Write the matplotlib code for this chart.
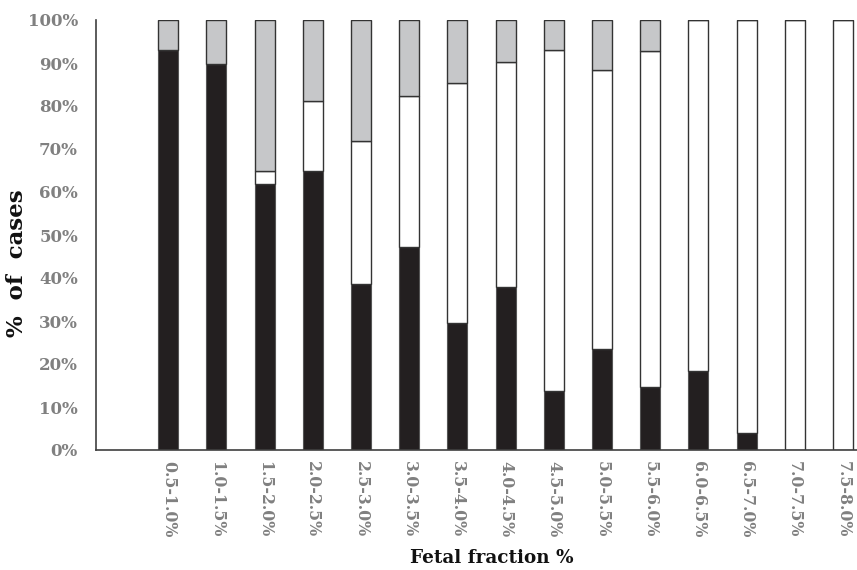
import matplotlib
matplotlib.use("Agg")
import matplotlib.pyplot as plt
import numpy as np

# fetal fraction bins (first slot of the axis is left empty)
bins = ["0.5-1.0%", "1.0-1.5%", "1.5-2.0%", "2.0-2.5%", "2.5-3.0%",
        "3.0-3.5%", "3.5-4.0%", "4.0-4.5%", "4.5-5.0%", "5.0-5.5%",
        "5.5-6.0%", "6.0-6.5%", "6.5-7.0%", "7.0-7.5%", "7.5-8.0%"]

# % of cases per bin (black / white / grey parts, stacked to 100)
black = [93.1, 89.8, 61.8, 64.9, 38.5, 47.3, 29.5, 37.8, 13.7, 23.6, 14.7, 18.3, 3.9, 0, 0]
white = [0, 0, 3.1, 16.3, 33.4, 35.0, 55.8, 52.5, 79.3, 64.8, 78.1, 81.7, 96.1, 100, 100]
grey = [6.9, 10.2, 35.1, 18.8, 28.1, 17.7, 14.7, 9.7, 7.0, 11.6, 7.2, 0, 0, 0, 0]

fig = plt.figure(figsize=(8.57, 5.70), dpi=100)
ax = fig.add_axes([96/857, 1 - 450/570, 771/857, 430/570])

x = np.arange(1, len(bins) + 1)
b = np.array(black) / 100
w = np.array(white) / 100
g = np.array(grey) / 100
bw = 0.415
ax.bar(x, b, bw, color="#231f20", edgecolor="#555555", linewidth=0.8)
ax.bar(x, w, bw, bottom=b, color="white", edgecolor="#333333", linewidth=1.0)
ax.bar(x, g, bw, bottom=b + w, color="#c6c7c9", edgecolor="#333333", linewidth=1.0)

ax.set_xlim(-0.5, 15.5)
ax.set_ylim(0, 1)
ax.set_yticks(np.arange(0, 1.01, 0.1))
ax.set_yticklabels(["%d%%" % v for v in range(0, 101, 10)])
ax.set_xticks(x)
ax.set_xticklabels(bins, rotation=270)

for lab in ax.get_yticklabels():
    lab.set_family("DejaVu Serif")
    lab.set_fontweight("bold")
    lab.set_color("#808080")
    lab.set_fontsize(12)
for lab in ax.get_xticklabels():
    lab.set_family("DejaVu Serif")
    lab.set_fontweight("bold")
    lab.set_color("#808080")
    lab.set_fontsize(11.3)

ax.tick_params(axis="both", length=0)
ax.tick_params(axis="y", pad=13)
ax.tick_params(axis="x", pad=8)
for s in ["top", "right"]:
    ax.spines[s].set_visible(False)
for s in ["left", "bottom"]:
    ax.spines[s].set_color("#404040")
    ax.spines[s].set_linewidth(1.2)

fig.text(17/857, 1 - 263/570, "%  of  cases", rotation=90, ha="center", va="center",
         family="DejaVu Serif", fontweight="bold", fontsize=16.5, color="#111111")
fig.text(492/857, 1 - 558/570, "Fetal fraction %", ha="center", va="center",
         family="DejaVu Serif", fontweight="bold", fontsize=13.2, color="#111111")

fig.savefig("out.png", dpi=100)
